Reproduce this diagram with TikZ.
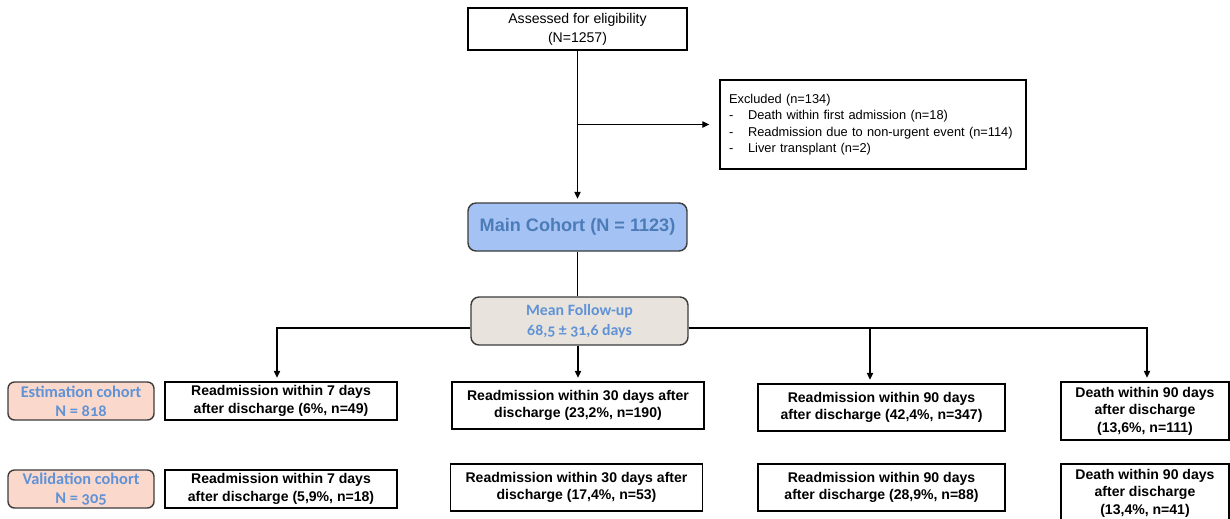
\documentclass[tikz,border=0pt]{standalone}
\usepackage{fontspec}
\setmainfont{Liberation Sans}
\newfontfamily\cohortfont[Numbers=OldStyle]{Carlito}
\usepackage{tikz}
\usetikzlibrary{arrows.meta}
\definecolor{mainfill}{RGB}{164,194,244}
\definecolor{mainblue}{RGB}{76,124,184}
\definecolor{followfill}{RGB}{232,228,221}
\definecolor{cohortfill}{RGB}{250,217,204}
\definecolor{cohortblue}{RGB}{96,146,214}
\definecolor{edgegray}{RGB}{60,60,60}
\tikzstyle{plainbox}=[draw=black, line width=0.8pt, align=center, inner sep=0pt]
\tikzstyle{resultbox}=[plainbox, font=\bfseries\fontsize{8}{10}\selectfont]
\tikzstyle{roundbox}=[draw=edgegray, line width=0.8pt, align=center, inner sep=0pt, rounded corners=0.16cm]
\tikzstyle{cohortbox}=[roundbox, fill=cohortfill, text=cohortblue, rounded corners=0.13cm, minimum width=2.92cm, minimum height=0.76cm, font=\cohortfont\bfseries\fontsize{9.3}{10.6}\selectfont]
\tikzstyle{link}=[draw=black, line width=0.7pt]
\tikzstyle{arrow}=[link, ->, >={Triangle[length=4pt, width=3.6pt]}, shorten >=2pt]

\begin{document}
\begin{tikzpicture}[x=0.02cm, y=-0.02cm]
	\path[use as bounding box, fill=white] (0,0) rectangle (1230,518);
	\begin{scope}
		\node (assessed) at (577.5,29)[plainbox, minimum width=4.38cm, minimum height=0.84cm, font=\fontsize{8}{10.8}\selectfont] {Assessed for eligibility\\(N=1257)};
		\node (excluded) at (873,124.5)[plainbox, align=left, text width=5.76cm, inner xsep=0.18cm, minimum height=1.78cm, font=\fontsize{7.3}{9.4}\selectfont] {
			Excluded (n=134)\\
			\makebox[0.38cm][l]{-}Death within first admission (n=18)\\
			\makebox[0.38cm][l]{-}Readmission due to non-urgent event (n=114)\\
			\makebox[0.38cm][l]{-}Liver transplant (n=2)
		};
		\node (main) at (577.5,227)[roundbox, fill=mainfill, text=mainblue, minimum width=4.38cm, minimum height=0.96cm, font=\bfseries\fontsize{10.3}{12}\selectfont] {Main Cohort (N = 1123)};
		\node (followup) at (579.5,321)[roundbox, fill=followfill, text=cohortblue, minimum width=4.34cm, minimum height=0.96cm, font=\cohortfont\bfseries\fontsize{9}{11.3}\selectfont] {Mean Follow-up\\68,5 ± 31,6 days};
		\coordinate (fork) at (579.5,328);
		\node (estim) at (81,401)[cohortbox] {Estimation cohort\\N = 818};
		\node (valid) at (81,489)[cohortbox] {Validation cohort\\N = 305};
		\node (a1) at (281,401)[resultbox, minimum width=4.64cm, minimum height=0.76cm] {Readmission within 7 days\\after discharge (6\%, n=49)};
		\node (a2) at (281,489)[resultbox, minimum width=4.64cm, minimum height=0.76cm] {Readmission within 7 days\\after discharge (5,9\%, n=18)};
		\node (b1) at (578,405.5)[resultbox, minimum width=5.04cm, minimum height=0.94cm] {Readmission within 30 days after\\discharge (23,2\%, n=190)};
		\node (b2) at (576.5,487.5)[resultbox, minimum width=5.04cm, minimum height=0.94cm] {Readmission within 30 days after\\discharge (17,4\%, n=53)};
		\node (c1) at (881.5,407.5)[resultbox, minimum width=4.94cm, minimum height=0.94cm] {Readmission within 90 days\\after discharge (42,4\%, n=347)};
		\node (c2) at (881.5,487.5)[resultbox, minimum width=4.94cm, minimum height=0.94cm] {Readmission within 90 days\\after discharge (28,9\%, n=88)};
		\node (d1) at (1145,411)[resultbox, minimum width=3.36cm, minimum height=1.16cm] {Death within 90 days\\after discharge\\(13,6\%, n=111)};
		\node (d2) at (1145,493)[resultbox, minimum width=3.36cm, minimum height=1.16cm] {Death within 90 days\\after discharge\\(13,4\%, n=41)};
	\end{scope}
	\begin{scope}
		\draw[arrow] (assessed.south) -- (main.north);
		\draw[arrow, shorten >=0.2cm] (assessed.south |- excluded.west) -- (excluded.west);
		\draw[link] (main.south) -- (main.south |- followup.north);
		\draw[arrow] (followup.west |- fork) -| ([xshift=-0.08cm]a1.north);
		\draw[arrow] (followup.south -| b1.north) -- (b1.north);
		\draw[arrow] (followup.east |- fork) -| ([xshift=-0.23cm]c1.north);
		\draw[arrow] (followup.east |- fork) -| ([xshift=0.04cm]d1.north);
	\end{scope}
\end{tikzpicture}
\end{document}
